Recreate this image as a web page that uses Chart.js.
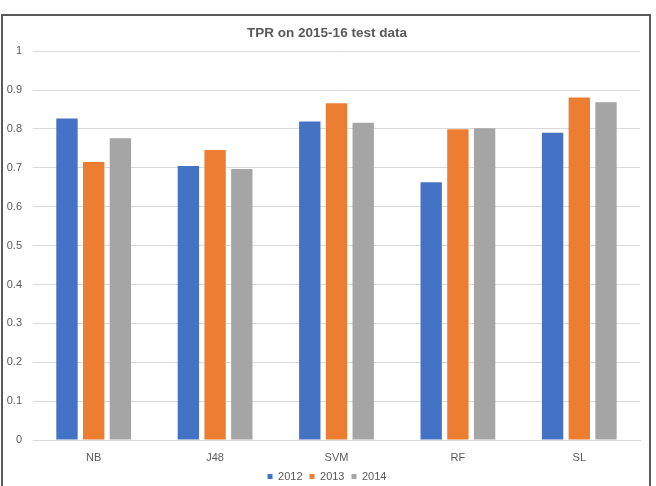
<!DOCTYPE html>
<html>
<head>
<meta charset="utf-8">
<script src="https://cdn.jsdelivr.net/npm/chart.js@4/dist/chart.umd.min.js"></script>
<style>
  html, body { margin: 0; padding: 0; background: #fff; }
  #wrap { position: relative; width: 656px; height: 486px; overflow: hidden; }
  #frame { position: absolute; left: 1px; top: 14px; width: 650px; height: 480px; border: 2px solid #5a5a5a; border-bottom: none; box-sizing: border-box; }
  canvas { position: absolute; left: 0; top: 0; }
</style>
</head>
<body>
<div id="wrap">
  <div id="frame"></div>
  <canvas id="c" width="656" height="486"></canvas>
</div>
<script>
const categories = ["NB", "J48", "SVM", "RF", "SL"];
const seriesNames = ["2012", "2013", "2014"];
const tpr2012 = [0.827, 0.705, 0.819, 0.663, 0.790];
const tpr2013 = [0.715, 0.746, 0.866, 0.799, 0.881];
const tpr2014 = [0.776, 0.697, 0.816, 0.802, 0.869];
const colors = ["#4472C4", "#ED7D31", "#A5A5A5"];
const textColor = "#595959";

Chart.defaults.font.family = "'Liberation Sans', Arial, sans-serif";
Chart.defaults.color = textColor;

// center title and legend on the framed area (as in the reference)
const centerShift = {
  id: "centerShift",
  afterLayout(chart) {
    const dx = 7;
    [chart.titleBlock, chart.legend].forEach(b => {
      if (b) { b.left += dx; b.right += dx; }
    });
  }
};

new Chart(document.getElementById("c"), {
  type: "bar",
  data: {
    labels: categories,
    datasets: [tpr2012, tpr2013, tpr2014].map((d, i) => ({
      label: seriesNames[i],
      data: d,
      backgroundColor: colors[i],
      borderWidth: 0,
      categoryPercentage: 0.66,
      barPercentage: 0.8
    }))
  },
  plugins: [centerShift],
  options: {
    responsive: false,
    animation: false,
    devicePixelRatio: 1,
    layout: { padding: { left: 0, right: 16, top: 20, bottom: -6 } },
    plugins: {
      title: {
        display: true,
        text: "TPR on 2015-16 test data",
        font: { size: 13.5, weight: "bold" },
        color: textColor,
        padding: { top: 5, bottom: 10 }
      },
      legend: {
        position: "bottom",
        labels: {
          boxWidth: 5, boxHeight: 5,
          font: { size: 11 },
          color: textColor,
          padding: 7
        }
      },
      tooltip: { enabled: false }
    },
    scales: {
      x: {
        grid: { display: false, drawTicks: false },
        border: { display: true, color: "#D9D9D9" },
        ticks: { font: { size: 11 }, color: textColor, padding: 11 },
        afterFit: s => { s.height = 24; }
      },
      y: {
        min: 0, max: 1,
        ticks: {
          stepSize: 0.1, font: { size: 11 }, color: textColor, padding: 11,
          callback: v => (Math.round(v * 10) / 10).toString()
        },
        grid: { color: "#D9D9D9", drawTicks: false },
        border: { display: false },
        afterFit: s => { s.width = 33; }
      }
    }
  }
});
</script>
</body>
</html>
